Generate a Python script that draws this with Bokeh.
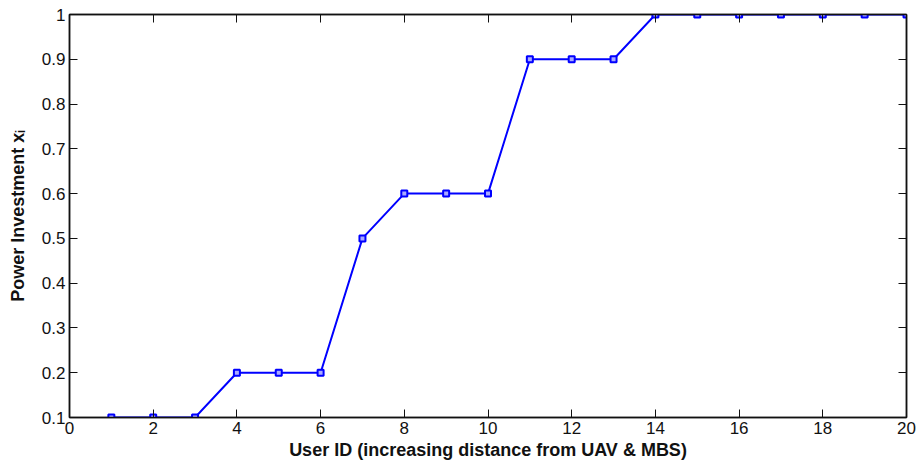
from bokeh.plotting import figure
from bokeh.models import LinearAxis, FixedTicker, Range1d
from bokeh.embed import file_html
from bokeh.resources import INLINE

user_ids = list(range(1, 21))
power_investment = [0.1, 0.1, 0.1, 0.2, 0.2, 0.2, 0.5, 0.6, 0.6, 0.6,
                    0.9, 0.9, 0.9, 1.0, 1.0, 1.0, 1.0, 1.0, 1.0, 1.0]
x_ticks = list(range(0, 21, 2))
y_ticks = [0.1, 0.2, 0.3, 0.4, 0.5, 0.6, 0.7, 0.8, 0.9, 1.0]
y_tick_labels = ["0.1", "0.2", "0.3", "0.4", "0.5", "0.6", "0.7", "0.8", "0.9", "1"]

FONT = "Liberation Sans"

p = figure(width=916, height=463, output_backend="svg", toolbar_location=None,
           x_range=Range1d(0, 20), y_range=Range1d(0.1, 1.0),
           min_border_left=69, min_border_right=10, min_border_top=14,
           min_border_bottom=46, x_axis_location=None, y_axis_location=None)
p.grid.visible = False
p.outline_line_color = "#222222"
p.outline_line_width = 1.5
p.background_fill_color = "white"
p.border_fill_color = "white"

def style_axis(ax, labels=True):
    ax.major_tick_in = 8
    ax.major_tick_out = 0
    ax.minor_tick_line_color = None
    ax.axis_line_color = "#111111"
    ax.axis_line_width = 1.5
    ax.major_tick_line_color = "#111111"
    ax.major_tick_line_width = 1
    ax.major_label_text_font = FONT
    ax.major_label_text_font_size = "17px"
    ax.major_label_text_color = "#111111"
    if not labels:
        ax.major_label_text_font_size = "1px"
        ax.major_label_text_color = None
        ax.major_label_standoff = 0

xb = LinearAxis(ticker=FixedTicker(ticks=x_ticks))
style_axis(xb)
xb.major_label_standoff = 4
xb.axis_label = "User ID (increasing distance from UAV & MBS)"
xb.axis_label_text_font = FONT
xb.axis_label_text_font_style = "bold"
xb.axis_label_text_font_size = "18px"
xb.axis_label_standoff = 3
xb.axis_label_text_color = "#111111"
p.add_layout(xb, "below")

yl = LinearAxis(ticker=FixedTicker(ticks=y_ticks))
style_axis(yl)
yl.major_label_standoff = 4
yl.major_label_overrides = {t: s for t, s in zip(y_ticks, y_tick_labels)}
yl.axis_label = "Power Investment x\u1d62"
yl.axis_label_text_font = FONT
yl.axis_label_text_font_style = "bold"
yl.axis_label_text_font_size = "18px"
yl.axis_label_standoff = 11
yl.axis_label_text_color = "#111111"
p.add_layout(yl, "left")

xt = LinearAxis(ticker=FixedTicker(ticks=x_ticks))
style_axis(xt, labels=False)
p.add_layout(xt, "above")

yr = LinearAxis(ticker=FixedTicker(ticks=y_ticks))
style_axis(yr, labels=False)
p.add_layout(yr, "right")

p.line(user_ids, power_investment, line_color="#0000ff", line_width=2)
p.scatter(user_ids, power_investment, marker="square", size=6,
          line_color="#0000ff", line_width=2, fill_color="#aaaaff")

open("out.html", "w").write(file_html(p, INLINE))
